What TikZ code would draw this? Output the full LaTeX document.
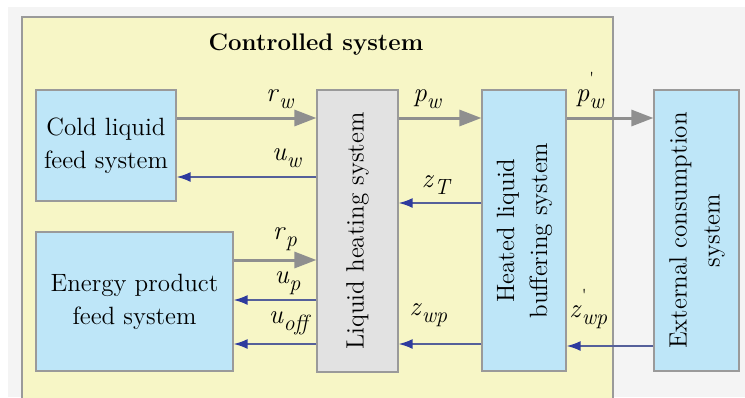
\documentclass[tikz,border=0pt]{standalone}
\usepackage{fontspec}
\usepackage{graphicx}
\usetikzlibrary{arrows.meta, calc}
\definecolor{pagegray}{HTML}{F4F4F4}
\definecolor{ctrlyellow}{HTML}{F7F6C6}
\definecolor{boxblue}{HTML}{BEE6F8}
\definecolor{boxgray}{HTML}{E2E2E2}
\definecolor{edgegray}{HTML}{9A9A9A}
\definecolor{flowgray}{HTML}{8F8F8F}
\definecolor{sigline}{HTML}{55609A}
\definecolor{sighead}{HTML}{2E3B9E}

% signal label: letter, optional prime, subscript
\newcommand{\sgn}[3][]{\textit{#2}\rlap{\raisebox{1.5ex}{\footnotesize #1}}\raisebox{-0.6ex}{\fontsize{11}{11}\selectfont\textit{#3}}}

\begin{document}
\begin{tikzpicture}[x=0.5pt, y=-0.5pt,
  unit/.style={draw=edgegray, line width=0.6pt, align=center, inner sep=0pt,
    font=\fontsize{12.5}{16.5}\selectfont},
  feed/.style={unit, fill=boxblue},
  flow/.style={flowgray, line width=1.5pt, -{Triangle[length=11pt, width=8pt]}},
  sig/.style={sigline, line width=0.9pt, -{Latex[length=7pt, width=5pt, color=sighead]}},
  lbl/.style={text=black, font=\fontsize{13.5}{13.5}\selectfont, inner sep=1pt}]

\useasboundingbox (0,0) rectangle (745,397);

% Background
\fill[pagegray] (8,7) rectangle (745,397);
\fill[ctrlyellow, draw=edgegray, line width=0.6pt] (22,17) rectangle (613,405);

% Title
\node[font=\fontsize{12}{12}\selectfont\bfseries] (title) at (316,45) {Controlled system};

% Blocks
\node[feed, minimum width=70pt, minimum height=55.5pt] (cold) at (106,145.5)
  {Cold liquid\\feed system};
\node[feed, minimum width=98.5pt, minimum height=69.5pt] (energy) at (134.5,301.5)
  {Energy product\\feed system};
\node[unit, fill=boxgray, minimum width=40.5pt, minimum height=141pt] (heat) at (357.5,231)
  {\rotatebox{90}{Liquid heating system}};
\node[feed, minimum width=42pt, minimum height=140.5pt] (buffer) at (524,230.5)
  {\rotatebox{90}{\begin{tabular}{@{}c@{}}Heated liquid\\buffering system\end{tabular}}};
\node[feed, minimum width=42.5pt, minimum height=140.5pt] (ext) at (696.5,230.5)
  {\rotatebox{90}{\begin{tabular}{@{}c@{}}External consumption\\system\end{tabular}}};

% Material flows
\draw[flow] (cold.east |- 0,118) -- (heat.west |- 0,118)
  node[lbl, pos=0.74, above=3pt] {\sgn{r}{w}};
\draw[flow] (heat.east |- 0,118) -- (buffer.west |- 0,118)
  node[lbl, pos=0.35, above=3pt] {\sgn{p}{w}};
\draw[flow] (buffer.east |- 0,118) -- (ext.west |- 0,118)
  node[lbl, pos=0.27, above=3pt] {\sgn[\textquotesingle]{p}{w}};
\draw[flow] (energy.east |- 0,260) -- (heat.west |- 0,260)
  node[lbl, pos=0.62, above=3pt] {\sgn{r}{p}};

% Control and measurement signals
\draw[sig] (heat.west |- 0,177) -- (cold.east |- 0,177)
  node[lbl, pos=0.21, above=3pt] {\sgn{u}{w}};
\draw[sig] (buffer.west |- 0,203) -- (heat.east |- 0,203)
  node[lbl, pos=0.54, above=3pt] {\sgn{z}{T}};
\draw[sig] (heat.west |- 0,300) -- (energy.east |- 0,300)
  node[lbl, pos=0.35, above=1pt] {\sgn{u}{p}};
\draw[sig] (heat.west |- 0,344) -- (energy.east |- 0,344)
  node[lbl, pos=0.32, above=3pt] {\sgn{u}{off}};
\draw[sig] (buffer.west |- 0,344) -- (heat.east |- 0,344)
  node[lbl, pos=0.64, above=7pt] {\sgn{z}{wp}};
\draw[sig] (ext.west |- 0,346) -- (buffer.east |- 0,346)
  node[lbl, pos=0.75, above=7pt] {\sgn[\textquotesingle]{z}{wp}};

\end{tikzpicture}
\end{document}
